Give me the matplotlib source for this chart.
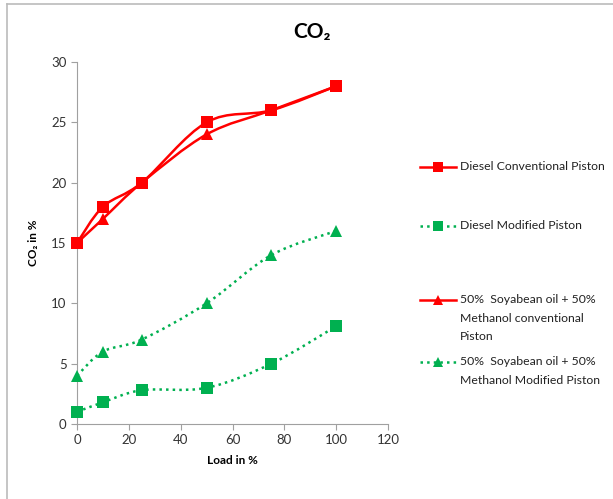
import matplotlib.pyplot as plt
from matplotlib.path import Path
from matplotlib.patches import PathPatch
from matplotlib.lines import Line2D

plt.rcParams['font.family'] = ['Lato', 'DejaVu Sans']

# load values (x axis)
load = [0, 10, 25, 50, 75, 100]

# CO2 in % for each series
diesel_conv = [15, 18, 20, 25, 26, 28]
diesel_mod = [1, 1.8, 2.8, 3, 5, 8.1]
soya_conv = [15, 17, 20, 24, 26, 28]
soya_mod = [4, 6, 7, 10, 14, 16]

labels = [
    "Diesel Conventional Piston",
    "Diesel Modified Piston",
    "50%  Soyabean oil + 50%\nMethanol conventional\nPiston",
    "50%  Soyabean oil + 50%\nMethanol Modified Piston",
]

RED = "#FF0000"
GREEN = "#00B050"
W, H = 613, 499


def smooth_path(xs, ys):
    # excel-like smoothed line: cubic bezier segments through each point
    pts = list(zip(xs, ys))
    n = len(pts)
    verts = [pts[0]]
    codes = [Path.MOVETO]
    for i in range(n - 1):
        p0 = pts[i - 1] if i > 0 else pts[i]
        p1 = pts[i]
        p2 = pts[i + 1]
        p3 = pts[i + 2] if i + 2 < n else pts[i + 1]
        c1 = (p1[0] + (p2[0] - p0[0]) / 6, p1[1] + (p2[1] - p0[1]) / 6)
        c2 = (p2[0] - (p3[0] - p1[0]) / 6, p2[1] - (p3[1] - p1[1]) / 6)
        verts += [c1, c2, p2]
        codes += [Path.CURVE4] * 3
    return Path(verts, codes)


fig = plt.figure(figsize=(W / 100, H / 100), dpi=100)
ax = fig.add_axes([77 / W, 1 - 424 / H, 311 / W, 362 / H])

series = [
    (diesel_conv, RED, "-", "s"),
    (diesel_mod, GREEN, ":", "s"),
    (soya_conv, RED, "-", "^"),
    (soya_mod, GREEN, ":", "^"),
]
lw = 1.8

for vals, col, ls, mk in series:
    patch = PathPatch(smooth_path(load, vals), facecolor="none", edgecolor=col,
                      linestyle=ls, linewidth=lw, clip_on=False)
    ax.add_patch(patch)
    ax.plot(load, vals, linestyle="none", marker=mk, color=col,
            markersize=8 if mk == "s" else 8.5, markeredgewidth=0, clip_on=False,
            zorder=3)

ax.set_xlim(0, 120)
ax.set_ylim(0, 30)
ax.set_xticks(range(0, 121, 20))
ax.set_yticks(range(0, 31, 5))
for s in ["top", "right"]:
    ax.spines[s].set_visible(False)
for s in ["left", "bottom"]:
    ax.spines[s].set_color("#A0A0A0")
ax.tick_params(colors="#A0A0A0", labelcolor="#333333", labelsize=9.5,
               direction="out", length=4)
ax.set_xlabel("Load in %", fontsize=8.5, fontweight="bold", labelpad=6)
ax.set_ylabel("CO₂ in %", fontsize=8.5, fontweight="bold", labelpad=9)

fig.text(312 / W, 1 - 32 / H, "CO₂", fontsize=15, fontweight="bold",
         ha="center", va="center")

# legend drawn by hand so multi-line entries have the key on the first line
legend_y = [167, 226, 300, 362]
for (vals, col, ls, mk), lab, y in zip(series, labels, legend_y):
    fy = 1 - y / H
    fig.add_artist(Line2D([420 / W, 456 / W], [fy, fy], color=col, linestyle=ls,
                          linewidth=lw, transform=fig.transFigure))
    fig.add_artist(Line2D([438 / W], [fy], color=col, marker=mk, markersize=7.5,
                          markeredgewidth=0, linestyle="none",
                          transform=fig.transFigure))
    fig.text(460 / W, 1 - (y - 6) / H, lab, fontsize=8.8, color="#222222",
             ha="left", va="top", linespacing=1.85)

# chart border (left and top only visible)
fig.add_artist(Line2D([6.5 / W, 6.5 / W], [0, 1 - 3.5 / H], color="#BBBBBB",
                      linewidth=1.2, transform=fig.transFigure))
fig.add_artist(Line2D([6.5 / W, 1], [1 - 3.5 / H, 1 - 3.5 / H], color="#BBBBBB",
                      linewidth=1.2, transform=fig.transFigure))

fig.savefig("out.png", dpi=100)
